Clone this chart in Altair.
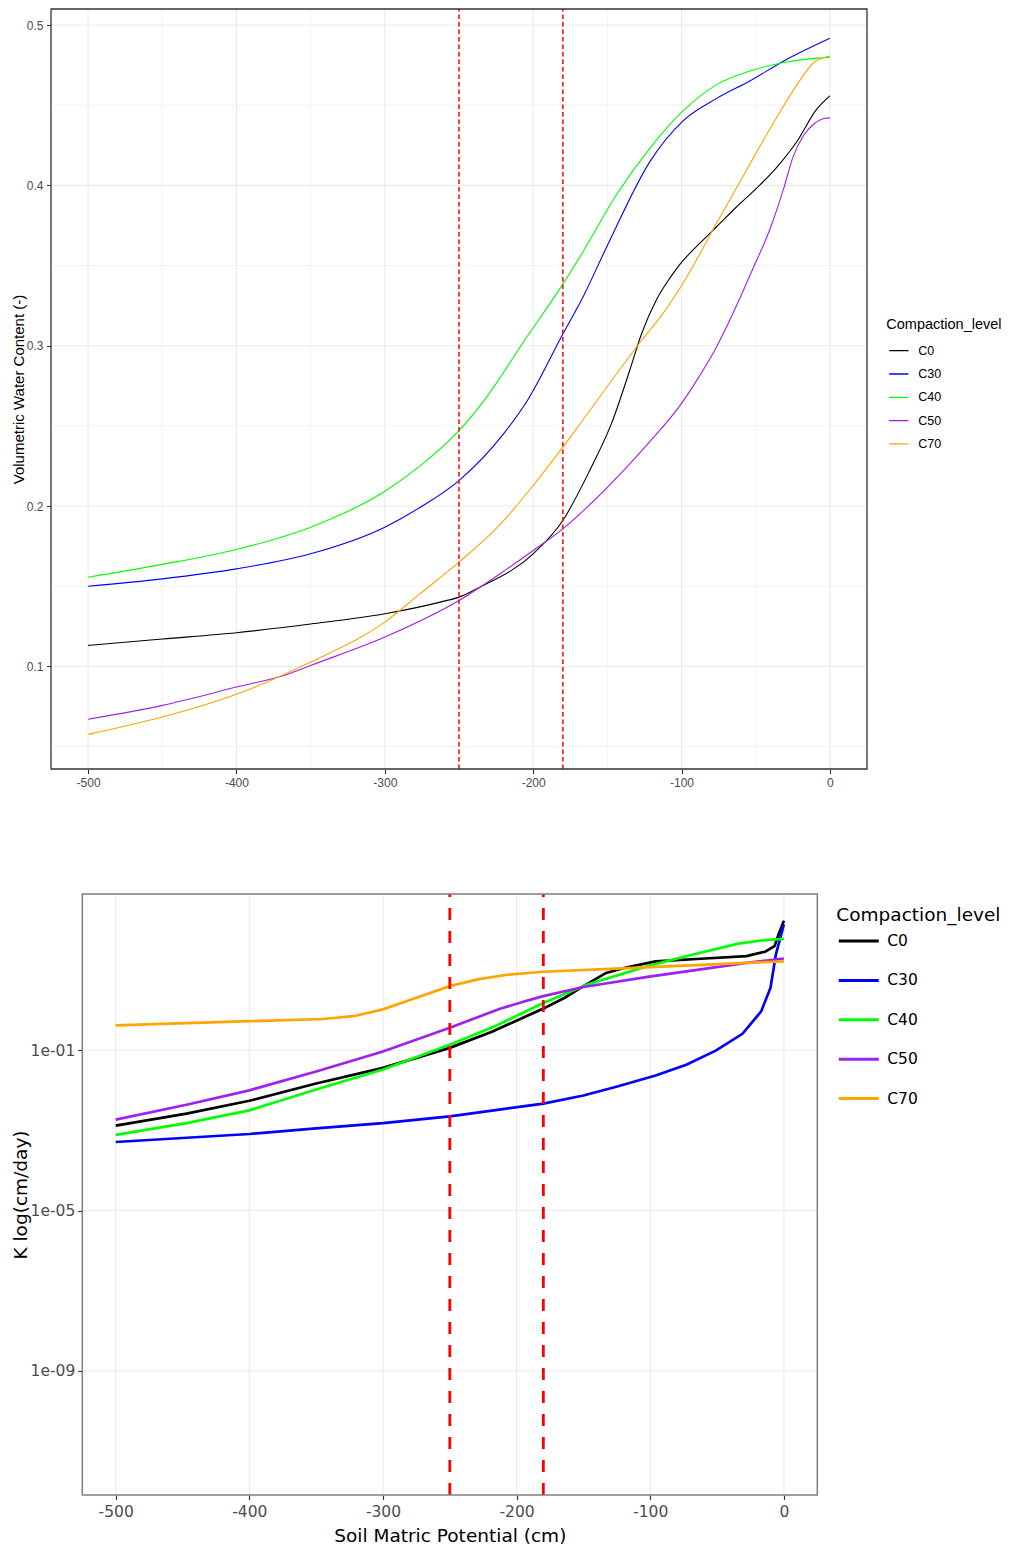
import altair as alt
import pandas as pd

LEVELS = ["C0", "C30", "C40", "C50", "C70"]
COLORS = ["#000000", "#0000FF", "#00FF00", "#A020F0", "#FFA500"]
THRESHOLDS = [-250, -180]

# ---------- Top panel: volumetric water content vs matric potential ----------
wr_C0_psi = [-500, -450, -400, -350, -300, -260, -250, -236, -200, -180, -162, -147, -135, -127, -117, -108, -101, -88, -76, -63, -49, -36, -22, -9, 0]
wr_C0_theta = [0.1131, 0.1171, 0.121, 0.1264, 0.1328, 0.1407, 0.1432, 0.1494, 0.1702, 0.191, 0.222, 0.252, 0.2844, 0.3073, 0.3285, 0.342, 0.3509, 0.3636, 0.3745, 0.3865, 0.3986, 0.4111, 0.4277, 0.4474, 0.4558]

wr_C30_psi = [-500, -450, -400, -350, -300, -276, -250, -220, -204, -180, -166, -150, -121, -99, -76, -54, -31, 0]
wr_C30_theta = [0.15, 0.1546, 0.1608, 0.1702, 0.1868, 0.1993, 0.2159, 0.245, 0.2657, 0.3073, 0.3312, 0.3625, 0.4153, 0.4402, 0.4544, 0.4651, 0.4776, 0.4917]

wr_C40_psi = [-500, -450, -400, -350, -300, -276, -250, -232, -206, -180, -166, -144, -121, -99, -76, -54, -31, 0]
wr_C40_theta = [0.1556, 0.1636, 0.1729, 0.1868, 0.2092, 0.2252, 0.247, 0.2672, 0.3031, 0.3384, 0.3592, 0.394, 0.4236, 0.4464, 0.463, 0.4713, 0.4766, 0.48]

wr_C50_psi = [-500, -450, -400, -366, -350, -300, -250, -224, -200, -180, -150, -123, -100, -92, -76, -63, -52, -40, -31, -25, -18, -11, -4, 0]
wr_C50_theta = [0.067, 0.0757, 0.0871, 0.095, 0.1006, 0.1183, 0.1411, 0.1567, 0.1723, 0.1858, 0.2117, 0.2385, 0.264, 0.2751, 0.3, 0.3249, 0.3478, 0.3737, 0.3986, 0.4173, 0.4308, 0.4381, 0.4417, 0.4421]

wr_C70_psi = [-500, -450, -400, -362, -350, -300, -276, -250, -224, -200, -180, -166, -128, -113, -99, -76, -54, -36, -22, -11, 0]
wr_C70_theta = [0.0576, 0.0684, 0.0826, 0.0975, 0.1027, 0.1276, 0.1455, 0.165, 0.1868, 0.2128, 0.2367, 0.2543, 0.302, 0.3195, 0.339, 0.377, 0.4132, 0.4422, 0.463, 0.4765, 0.4807]

# ---------- Bottom panel: hydraulic conductivity, stored as log10(K) ----------
k_C0_psi = [-500, -447, -400, -350, -300, -250, -218, -180, -164, -150, -133, -119, -96, -59, -28, -14, -7, -4, 0]
k_C0_log = [-2.88, -2.58, -2.26, -1.83, -1.44, -0.94, -0.53, 0.04, 0.31, 0.6, 0.93, 1.06, 1.22, 1.29, 1.35, 1.46, 1.6, 1.89, 2.23]

k_C30_psi = [-500, -450, -400, -350, -300, -250, -213, -180, -150, -124, -96, -73, -51, -31, -17, -10, -6, 0]
k_C30_log = [-3.29, -3.19, -3.09, -2.95, -2.82, -2.65, -2.48, -2.33, -2.13, -1.9, -1.63, -1.36, -1.01, -0.59, -0.03, 0.56, 1.39, 2.14]

k_C40_psi = [-500, -447, -400, -350, -300, -250, -215, -180, -147, -102, -68, -34, -17, 0]
k_C40_log = [-3.11, -2.82, -2.5, -1.98, -1.48, -0.86, -0.38, 0.18, 0.64, 1.1, 1.39, 1.66, 1.74, 1.78]

k_C50_psi = [-500, -447, -400, -350, -300, -250, -213, -192, -180, -150, -102, -28, 0]
k_C50_log = [-2.73, -2.36, -2.0, -1.53, -1.03, -0.44, 0.03, 0.24, 0.35, 0.58, 0.83, 1.18, 1.29]

k_C70_psi = [-500, -400, -345, -322, -300, -275, -250, -229, -206, -180, -130, -96, -28, 0]
k_C70_log = [-0.38, -0.275, -0.22, -0.15, 0.02, 0.31, 0.6, 0.77, 0.89, 0.96, 1.03, 1.08, 1.18, 1.22]

# axis ranges and tick / grid values
TOP_X_DOMAIN = [-525, 25]
TOP_Y_DOMAIN = [0.036, 0.51]
BOT_X_DOMAIN = [-525, 25]
BOT_Y_DOMAIN = [7.94e-13, 794.3]
TOP_X_TICKS = [-500, -400, -300, -200, -100, 0]
TOP_X_GRID = [-500, -450, -400, -350, -300, -250, -200, -150, -100, -50, 0]
TOP_Y_TICKS = [0.1, 0.2, 0.3, 0.4, 0.5]
TOP_Y_GRID = [0.05, 0.1, 0.15, 0.2, 0.25, 0.3, 0.35, 0.4, 0.45, 0.5]
BOT_X_TICKS = [-500, -400, -300, -200, -100, 0]
BOT_Y_TICKS = [1e-9, 1e-5, 1e-1]

wr_series = {
    "C0": (wr_C0_psi, wr_C0_theta),
    "C30": (wr_C30_psi, wr_C30_theta),
    "C40": (wr_C40_psi, wr_C40_theta),
    "C50": (wr_C50_psi, wr_C50_theta),
    "C70": (wr_C70_psi, wr_C70_theta),
}
k_series = {
    "C0": (k_C0_psi, k_C0_log),
    "C30": (k_C30_psi, k_C30_log),
    "C40": (k_C40_psi, k_C40_log),
    "C50": (k_C50_psi, k_C50_log),
    "C70": (k_C70_psi, k_C70_log),
}

rows = []
for lvl, (xs, ys) in wr_series.items():
    for x, y in zip(xs, ys):
        rows.append({"psi": x, "theta": y, "level": lvl})
df_wr = pd.DataFrame(rows)

rows = []
for lvl, (xs, ys) in k_series.items():
    for x, y in zip(xs, ys):
        rows.append({"psi": x, "K": 10 ** y, "level": lvl})
df_k = pd.DataFrame(rows)

# helper tables (grid lines, frames, thresholds) built from the arrays above
df_top_vgrid = pd.DataFrame({
    "v": TOP_X_GRID, "lo": TOP_Y_DOMAIN[0], "hi": TOP_Y_DOMAIN[1],
    "w": [1.1 if v % 100 == 0 else 0.6 for v in TOP_X_GRID],
})
df_top_hgrid = pd.DataFrame({
    "v": TOP_Y_GRID, "lo": TOP_X_DOMAIN[0], "hi": TOP_X_DOMAIN[1],
    "w": [1.1 if abs(v * 10 - round(v * 10)) < 1e-6 else 0.6 for v in TOP_Y_GRID],
})
df_bot_vgrid = pd.DataFrame({"v": BOT_X_TICKS, "lo": BOT_Y_DOMAIN[0], "hi": BOT_Y_DOMAIN[1]})
df_bot_hgrid = pd.DataFrame({"v": BOT_Y_TICKS, "lo": BOT_X_DOMAIN[0], "hi": BOT_X_DOMAIN[1]})
df_top_thr = pd.DataFrame({"psi": THRESHOLDS, "lo": TOP_Y_DOMAIN[0], "hi": TOP_Y_DOMAIN[1]})
df_bot_thr = pd.DataFrame({"psi": THRESHOLDS, "lo": BOT_Y_DOMAIN[0], "hi": BOT_Y_DOMAIN[1]})
df_top_frame = pd.DataFrame({"x0": [TOP_X_DOMAIN[0]], "x1": [TOP_X_DOMAIN[1]],
                             "y0": [TOP_Y_DOMAIN[0]], "y1": [TOP_Y_DOMAIN[1]]})
df_bot_frame = pd.DataFrame({"x0": [BOT_X_DOMAIN[0]], "x1": [BOT_X_DOMAIN[1]],
                             "y0": [BOT_Y_DOMAIN[0]], "y1": [BOT_Y_DOMAIN[1]]})

TOP_FONT = "Liberation Sans"
BOT_FONT = "DejaVu Sans"
GRID = "#EBEBEB"

# Whole figure is one plot area (816 x 1486); each panel gets its own pixel band.
W, H = 816, 1486
TOP_X_RANGE = [0, 816]
TOP_Y_RANGE = [760, 0]
BOT_X_RANGE = [31.3, 766.3]
BOT_Y_RANGE = [1486, 885]

top_xs = alt.Scale(domain=TOP_X_DOMAIN, range=TOP_X_RANGE, nice=False, zero=False)
top_ys = alt.Scale(domain=TOP_Y_DOMAIN, range=TOP_Y_RANGE, nice=False, zero=False)
bot_xs = alt.Scale(domain=BOT_X_DOMAIN, range=BOT_X_RANGE, nice=False, zero=False)
bot_ys = alt.Scale(type="log", domain=BOT_Y_DOMAIN, range=BOT_Y_RANGE, nice=False)

top_xax = alt.Axis(
    orient="bottom", offset=TOP_Y_RANGE[0] - H, values=TOP_X_TICKS,
    labelExpr="'' + datum.value", title=None, grid=False, domain=False,
    tickColor="#333333", tickSize=4.5, tickWidth=1.1,
    labelFont=TOP_FONT, labelFontSize=12, labelColor="#4D4D4D", labelPadding=3.5,
    labelFlush=False, labelOverlap=False,
)
top_yax = alt.Axis(
    orient="left", values=TOP_Y_TICKS, labelExpr="format(datum.value, '.1f')",
    title="Volumetric Water Content (-)", titleFont=TOP_FONT, titleFontSize=15,
    titleFontWeight="normal", titleColor="#000000", titlePadding=0,
    grid=False, domain=False, tickColor="#333333", tickSize=4.5, tickWidth=1.1,
    labelFont=TOP_FONT, labelFontSize=12, labelColor="#4D4D4D", labelPadding=3.5,
    labelFlush=False, labelOverlap=False,
)
bot_xax = alt.Axis(
    orient="bottom", values=BOT_X_TICKS, labelExpr="'' + datum.value",
    title="Soil Matric Potential (cm)", titleFont=BOT_FONT, titleFontSize=18.5,
    titleFontWeight="normal", titleColor="#000000", titlePadding=6.5,
    grid=False, domain=False, tickColor="#333333", tickSize=4.5, tickWidth=1.2,
    labelFont=BOT_FONT, labelFontSize=15.5, labelColor="#4D4D4D", labelPadding=5,
    labelFlush=False, labelOverlap=False,
)
bot_yax = alt.Axis(
    orient="left", offset=-BOT_X_RANGE[0], values=BOT_Y_TICKS,
    labelExpr="'1e-' + format(round(-log(datum.value) / LN10), '02d')",
    title="K log(cm/day)", titleFont=BOT_FONT, titleFontSize=18.5,
    titleFontWeight="normal", titleColor="#000000", titlePadding=0,
    grid=False, domain=False, tickColor="#333333", tickSize=4.5, tickWidth=1.2,
    labelFont=BOT_FONT, labelFontSize=15.5, labelColor="#4D4D4D", labelPadding=3,
    labelFlush=False, labelOverlap=False,
)


def tx(f):
    return alt.X(f, type="quantitative", scale=top_xs, axis=top_xax)


def ty(f):
    return alt.Y(f, type="quantitative", scale=top_ys, axis=top_yax)


def bx(f):
    return alt.X(f, type="quantitative", scale=bot_xs, axis=bot_xax)


def by(f):
    return alt.Y(f, type="quantitative", scale=bot_ys, axis=bot_yax)


top_legend = alt.Legend(
    title="Compaction_level", orient="none", legendX=835.3, legendY=308.5,
    direction="vertical", padding=0,
    titleFont=TOP_FONT, titleFontSize=14.5, titleFontWeight="normal", titleColor="#000000",
    titlePadding=8, labelFont=TOP_FONT, labelFontSize=12.5, labelColor="#000000",
    symbolType="stroke", symbolSize=372, symbolStrokeWidth=1.3, symbolOffset=2,
    labelOffset=9, clipHeight=21.4, rowPadding=1.3,
)
bot_legend = alt.Legend(
    title="Compaction_level", orient="none", legendX=785.3, legendY=896.5,
    direction="vertical", padding=0,
    titleFont=BOT_FONT, titleFontSize=18.5, titleFontWeight="normal", titleColor="#000000",
    titlePadding=0, titleLimit=400, labelFont=BOT_FONT, labelFontSize=15.5, labelColor="#000000",
    symbolType="stroke", symbolSize=1600, symbolStrokeWidth=3, symbolOffset=1,
    labelOffset=7, clipHeight=34, rowPadding=5.4,
)

# ---------------- top panel layers ----------------
top_vgrid = alt.Chart(df_top_vgrid).mark_rule(color=GRID).encode(
    x=tx("v"), y=ty("lo"), y2=alt.Y2("hi"), strokeWidth=alt.StrokeWidth("w:Q", scale=None)
)
top_hgrid = alt.Chart(df_top_hgrid).mark_rule(color=GRID).encode(
    y=ty("v"), x=tx("lo"), x2=alt.X2("hi"), strokeWidth=alt.StrokeWidth("w:Q", scale=None)
)
top_lines = alt.Chart(df_wr).mark_line(strokeWidth=1.1, interpolate="monotone").encode(
    x=tx("psi"), y=ty("theta"),
    color=alt.Color("level:N", scale=alt.Scale(domain=LEVELS, range=COLORS), legend=top_legend),
)
top_rules = alt.Chart(df_top_thr).mark_rule(color="#FF0000", strokeDash=[4.5, 3], strokeWidth=1.5).encode(
    x=tx("psi"), y=ty("lo"), y2=alt.Y2("hi")
)
top_frame = alt.Chart(df_top_frame).mark_rect(fill="transparent", stroke="#333333", strokeWidth=1.3).encode(
    x=tx("x0"), x2=alt.X2("x1"), y=ty("y0"), y2=alt.Y2("y1")
)
top = alt.layer(top_vgrid, top_hgrid, top_lines, top_rules, top_frame)

# ---------------- bottom panel layers ----------------
bot_vgrid = alt.Chart(df_bot_vgrid).mark_rule(color=GRID, strokeWidth=1.1).encode(
    x=bx("v"), y=by("lo"), y2=alt.Y2("hi")
)
bot_hgrid = alt.Chart(df_bot_hgrid).mark_rule(color=GRID, strokeWidth=1.1).encode(
    y=by("v"), x=bx("lo"), x2=alt.X2("hi")
)
bot_lines = alt.Chart(df_k).mark_line(strokeWidth=2.7).encode(
    x=bx("psi"), y=by("K"),
    color=alt.Color("level:N", scale=alt.Scale(domain=LEVELS, range=COLORS), legend=bot_legend),
)
bot_rules = alt.Chart(df_bot_thr).mark_rule(color="#FF0000", strokeDash=[12, 11], strokeWidth=2.8).encode(
    x=bx("psi"), y=by("lo"), y2=alt.Y2("hi")
)
bot_frame = alt.Chart(df_bot_frame).mark_rect(fill="transparent", stroke="#7F7F7F", strokeWidth=1.5).encode(
    x=bx("x0"), x2=alt.X2("x1"), y=by("y0"), y2=alt.Y2("y1")
)
bottom = alt.layer(bot_vgrid, bot_hgrid, bot_lines, bot_rules, bot_frame)

chart = (
    alt.layer(top, bottom)
    .resolve_scale(x="independent", y="independent", color="independent")
    .resolve_axis(x="independent", y="independent")
    .resolve_legend(color="independent")
    .properties(width=W, height=H, padding={"left": 3, "top": 0, "right": 0, "bottom": 0},
                background="white")
    .configure_view(stroke="transparent")
)

chart.save("out.html", embed_options={"renderer": "svg", "actions": False})
